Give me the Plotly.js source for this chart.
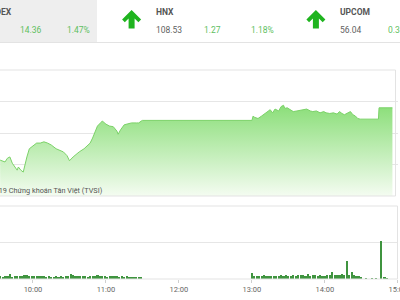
<!DOCTYPE html>
<html><head><meta charset="utf-8">
<script src="https://cdn.plot.ly/plotly-3.0.1.min.js"></script>
<style>html,body{margin:0;padding:0;background:#fff}#chart{width:400px;height:300px}</style>
</head><body><div id="chart"></div>
<script>
const DAY = '2019-04-02';

// Intraday index (price pane)
const priceTimes = ['09:33','09:37','09:39','09:41','09:43','09:45','09:47','09:48','09:50','09:52','09:53','09:55','09:57','10:00','10:03','10:06','10:09','10:12','10:15','10:19','10:22','10:25','10:28','10:30','10:33','10:36','10:38','10:42','10:44','10:47','10:49','10:52','10:53','10:56','10:57','11:00','11:03','11:06','11:09','11:10','11:12','11:15','11:18','11:21','11:25','11:27','11:29','11:30','13:00','13:01','13:02','13:05','13:08','13:11','13:13','13:15','13:17','13:19','13:22','13:24','13:26','13:27','13:29','13:31','13:34','13:37','13:39','13:42','13:45','13:48','13:50','13:53','13:56','13:59','14:01','14:04','14:07','14:10','14:12','14:14','14:16','14:19','14:21','14:23','14:25','14:27','14:29','14:44','14:44:30','14:55:30'];
const priceValues = [980.7,980.4,981.0,981.2,980.2,979.6,979.1,979.6,979.1,978.8,979.8,981.2,982.5,982.9,983.4,983.4,983.6,983.4,983.1,982.5,982.3,982.0,981.4,980.6,981.2,981.7,982.0,982.5,982.8,983.4,984.2,985.5,986.1,986.7,986.9,986.4,986.1,986.0,985.3,984.8,985.5,986.3,986.4,986.6,986.6,986.6,986.9,987.0,987.0,987.7,987.5,987.3,987.7,988.1,988.4,988.7,988.2,988.8,988.5,989.2,989.4,988.9,989.0,988.7,988.4,988.5,988.6,988.7,988.8,988.5,988.4,988.5,988.2,988.4,988.2,988.1,988.2,988.0,988.4,988.1,987.9,988.2,988.4,987.9,987.7,987.3,987.2,987.2,989.0,989.0];

// Volume pane
const volTimes = ['09:33','09:35','09:37','09:39','09:41','09:43','09:45','09:47','09:49','09:51','09:53','09:55','09:57','09:59','10:01','10:03','10:05','10:07','10:09','10:11','10:13','10:15','10:17','10:19','10:21','10:23','10:25','10:27','10:29','10:31','10:33','10:35','10:37','10:39','10:41','10:43','10:45','10:47','10:49','10:51','10:53','10:55','10:57','10:59','11:01','11:03','11:05','11:07','11:09','11:11','11:13','11:15','11:17','11:19','11:21','11:23','11:25','11:27','11:29',
'13:00','13:02','13:04','13:06','13:08','13:10','13:12','13:14','13:16','13:18','13:20','13:22','13:24','13:26','13:28','13:30','13:32','13:34','13:36','13:38','13:40','13:42','13:44','13:46','13:48','13:50','13:52','13:54','13:56','13:58','14:00','14:02','14:04','14:06','14:08','14:10','14:12','14:14','14:16','14:18','14:20','14:22','14:24','14:26','14:28','14:30','14:34','14:39','14:42','14:46','14:49','14:51'];
const volValues = [0.14,0.12,0.16,0.15,0.26,0.13,0.15,0.14,0.18,0.15,0.20,0.22,0.17,0.19,0.16,0.18,0.15,0.17,0.14,0.13,0.16,0.12,0.10,0.14,0.12,0.15,0.13,0.18,0.16,0.30,0.22,0.17,0.15,0.19,0.14,0.17,0.13,0.16,0.18,0.15,0.20,0.17,0.14,0.16,0.13,0.15,0.18,0.14,0.16,0.12,0.15,0.13,0.14,0.11,0.13,0.10,0.12,0.11,0.12,
0.33,0.14,0.16,0.18,0.15,0.20,0.17,0.19,0.16,0.14,0.18,0.15,0.22,0.17,0.20,0.16,0.19,0.24,0.18,0.21,0.20,0.22,0.19,0.28,0.19,0.24,0.20,0.18,0.22,0.17,0.19,0.21,0.20,0.38,0.22,0.24,0.21,0.28,0.20,0.99,0.24,0.38,0.22,0.19,0.16,0.12,0.06,0.04,0.05,2.08,0.12,0.04];

// Header ticker strip
const indexNames = ['VN-INDEX','HNX','UPCOM'];
const indexValues = [null,'108.53','56.04'];
const indexChanges = ['14.36','1.27','0.36'];
const indexPercents = ['1.47%','1.18%','0.36%'];

const W=400,H=300,L=0,R=2,T=70,B=21;
const PW=W-L-R, PH=H-T-B;
const px = x => (x-L)/PW;
const py = y => (H-B-y)/PH;

const traces = [
  {x: priceTimes.map(t=>DAY+' '+t), y: priceValues, type:'scatter', mode:'lines',
   line:{color:'#7bd268', width:1}, fill:'tozeroy',
   fillgradient:{type:'vertical', start:975, stop:989.5, colorscale:[[0,'#f4fcf1'],[1,'#8ade78']]},
   xaxis:'x', yaxis:'y2', hoverinfo:'skip'},
  {x: volTimes.map(t=>DAY+' '+t), y: volValues, type:'bar', width:105000,
   marker:{color:'#3f943f', line:{width:0}}, xaxis:'x', yaxis:'y', hoverinfo:'skip'}
];

const shapes = [
  {type:'rect', xref:'paper', yref:'paper', x0:px(-5), x1:px(97), y0:py(42), y1:py(-5), fillcolor:'#eeeeee', line:{width:0}, layer:'below'},
  {type:'line', xref:'paper', yref:'paper', x0:px(-5), x1:px(405), y0:py(42.5), y1:py(42.5), line:{color:'#e3e3e3', width:1}},
  {type:'rect', xref:'paper', yref:'paper', x0:px(-5), x1:px(395.5), y0:py(196), y1:py(70), line:{color:'#e3e3e3', width:1}},
  {type:'rect', xref:'paper', yref:'paper', x0:px(-5), x1:px(397.5), y0:py(279), y1:py(206), line:{color:'#e3e3e3', width:1}}
];
const annotations = [];
const groupLeft = [-30, 154, 338.3];
const green = '#5fbf5f', gray = '#616161';
indexNames.forEach((name,i)=>{
  const gx = groupLeft[i];
  annotations.push({xref:'paper', yref:'paper', x:px(gx), y:py(12.3), xanchor:'left', yanchor:'middle', showarrow:false,
    text:'<b>'+name+'</b>', font:{family:'Roboto', size:8.5, color:'#555'}});
  if (indexValues[i]) annotations.push({xref:'paper', yref:'paper', x:px(gx), y:py(30.5), xanchor:'left', yanchor:'middle', showarrow:false,
    text:indexValues[i], font:{family:'Roboto', size:8.5, color:gray}});
  annotations.push({xref:'paper', yref:'paper', x:px(gx+47.7), y:py(30.5), xanchor:'left', yanchor:'middle', showarrow:false,
    text:indexChanges[i], font:{family:'Roboto', size:8.5, color:green}});
  annotations.push({xref:'paper', yref:'paper', x:px(gx+95.2), y:py(30.5), xanchor:'left', yanchor:'middle', showarrow:false,
    text:indexPercents[i], font:{family:'Roboto', size:8.5, color:green}});
  if (i>0) {
    const cx = gx-22.4, top=10, bot=28.5;
    const pts = [[cx,top],[cx+9.5,top+9.5],[cx+6.8,top+12.2],[cx+3,top+8.4],[cx+3,bot],[cx-3,bot],[cx-3,top+8.4],[cx-6.8,top+12.2],[cx-9.5,top+9.5]];
    const path = 'M'+pts.map(p=>px(p[0]).toFixed(5)+','+py(p[1]).toFixed(5)).join(' L')+' Z';
    shapes.push({type:'path', xref:'paper', yref:'paper', path:path, fillcolor:'#1fb41f', line:{width:0}});
  }
});
annotations.push({xref:'paper', yref:'paper', x:px(105), y:py(190), xanchor:'right', yanchor:'middle', showarrow:false,
  text:'© 2019 Chứng khoán Tân Việt (TVSI)', font:{family:'Roboto', size:7.3, color:'#555'}});

const layout = {
  width:W, height:H, margin:{l:L, r:R, t:T, b:B},
  paper_bgcolor:'#fff', plot_bgcolor:'#fff', showlegend:false, bargap:0,
  font:{family:'Roboto'},
  xaxis:{type:'date', range:[DAY+' 09:32:53', DAY+' 15:00:05'], tickformat:'%H:%M', dtick:3600000, tick0:DAY+' 10:00',
    ticks:'outside', ticklen:3, tickcolor:'#cfcfcf', tickfont:{family:'Roboto', size:7.5, color:'#666'},
    showgrid:false, zeroline:false, showline:false, anchor:'y', ticklabeloverflow:'allow'},
  yaxis:{domain:[0, py(206)], range:[0,4], dtick:2, showticklabels:false, gridcolor:'#e6e6e6', zeroline:false},
  yaxis2:{domain:[py(196),1], range:[975,995], dtick:5, tick0:975, showticklabels:false, gridcolor:'#e6e6e6', zeroline:false, anchor:'x'},
  shapes:shapes, annotations:annotations
};
Plotly.newPlot('chart', traces, layout, {staticPlot:true, displayModeBar:false});
</script></body></html>
